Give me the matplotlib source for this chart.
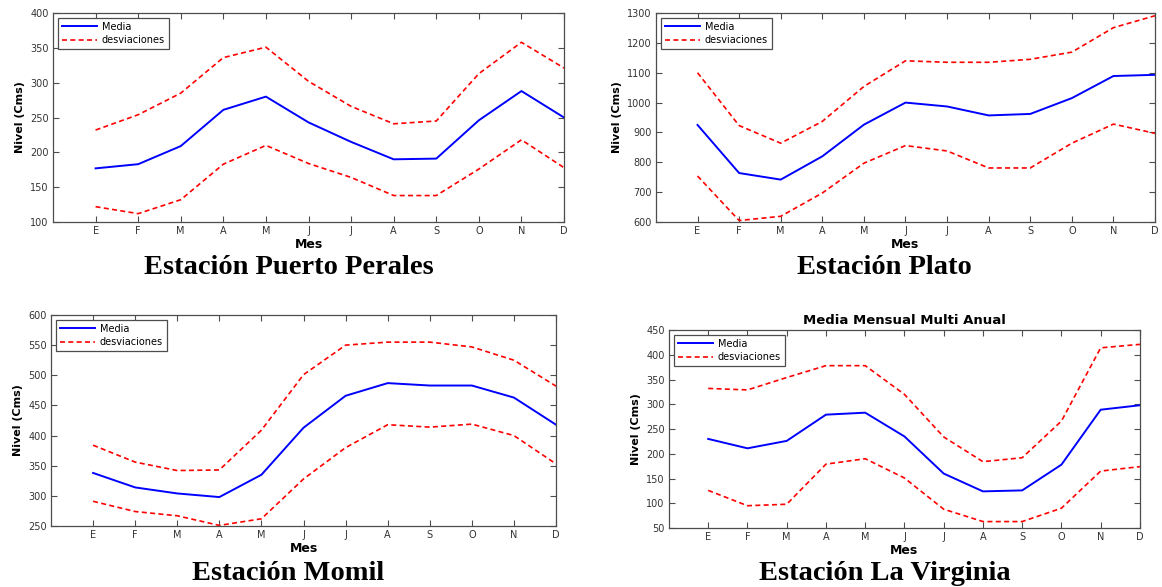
import matplotlib.pyplot as plt
import numpy as np

meses = ['E', 'F', 'M', 'A', 'M', 'J', 'J', 'A', 'S', 'O', 'N', 'D']

# Estacion Puerto Perales
pp_media = [177, 183, 209, 261, 280, 243, 215, 190, 191, 246, 288, 250]
pp_sup = [232, 254, 285, 336, 351, 302, 266, 241, 245, 313, 358, 321]
pp_inf = [122, 112, 132, 183, 210, 184, 164, 138, 138, 176, 218, 178]

# Estacion Plato
pl_media = [925, 764, 742, 820, 926, 1000, 987, 957, 962, 1015, 1089, 1093]
pl_sup = [1100, 923, 864, 937, 1054, 1140, 1135, 1135, 1145, 1169, 1251, 1291]
pl_inf = [754, 605, 619, 697, 797, 856, 838, 781, 781, 864, 928, 897]

# Estacion Momil
mo_media = [338, 314, 304, 298, 335, 413, 466, 487, 483, 483, 463, 418]
mo_sup = [384, 356, 342, 343, 409, 501, 550, 555, 555, 547, 525, 482]
mo_inf = [291, 274, 267, 251, 262, 328, 380, 418, 414, 419, 400, 353]

# Estacion La Virginia
lv_media = [230, 211, 226, 279, 283, 235, 160, 124, 126, 178, 289, 298]
lv_sup = [332, 329, 354, 378, 378, 320, 234, 184, 192, 266, 414, 421]
lv_inf = [126, 95, 98, 179, 190, 151, 88, 63, 63, 90, 165, 174]

x = np.arange(1, 13)


def panel(rect, media, sup, inf, ylim, ystep, titulo=None):
    ax = fig.add_axes(rect)
    ax.plot(x, media, color='blue', lw=1.4, label='Media')
    ax.plot(x, sup, color='red', lw=1.2, ls='--', dashes=(3, 2), label='desviaciones')
    ax.plot(x, inf, color='red', lw=1.2, ls='--', dashes=(3, 2))
    ax.set_xlim(0, 12)
    ax.set_ylim(*ylim)
    ax.set_xticks(x)
    ax.set_xticklabels(meses)
    ax.set_yticks(np.arange(ylim[0], ylim[1] + 1, ystep))
    ax.tick_params(direction='in', top=True, right=True, labelsize=7,
                   length=4, width=0.8, colors='0.3', labelcolor='0.2', pad=3)
    for s in ax.spines.values():
        s.set_color('0.3')
        s.set_linewidth(0.9)
    ax.set_xlabel('Mes', fontsize=9, fontweight='bold', labelpad=1)
    ax.set_ylabel('Nivel (Cms)', fontsize=8, fontweight='bold', labelpad=4)
    leg = ax.legend(loc='upper left', fontsize=7, handlelength=3.6,
                    fancybox=False, framealpha=1, borderpad=0.4,
                    labelspacing=0.35, borderaxespad=0.5, handletextpad=0.5)
    leg.get_frame().set_edgecolor('0.3')
    leg.get_frame().set_linewidth(0.9)
    if titulo:
        ax.set_title(titulo, fontsize=9.5, fontweight='bold', pad=4)
    return ax


fig = plt.figure(figsize=(11.62, 5.87), dpi=100)

panel([0.0456, 0.6218, 0.4398, 0.356], pp_media, pp_sup, pp_inf, (100, 400), 50)
panel([0.5645, 0.6218, 0.4295, 0.356], pl_media, pl_sup, pl_inf, (600, 1300), 100)
panel([0.0439, 0.1039, 0.4346, 0.3595], mo_media, mo_sup, mo_inf, (250, 600), 50)
panel([0.5757, 0.1005, 0.4053, 0.3373], lv_media, lv_sup, lv_inf, (50, 450), 50,
      titulo='Media Mensual Multi Anual')

cap = dict(fontsize=20.5, fontweight='bold', family='Liberation Serif',
           ha='center', va='center')
fig.text(289 / 1162, 1 - 268 / 587, 'Estación Puerto Perales', **cap)
fig.text(884 / 1162, 1 - 268 / 587, 'Estación Plato', **cap)
fig.text(288 / 1162, 1 - 573 / 587, 'Estación Momil', **cap)
fig.text(885 / 1162, 1 - 573 / 587, 'Estación La Virginia', **cap)

fig.savefig('out.png', dpi=100)
